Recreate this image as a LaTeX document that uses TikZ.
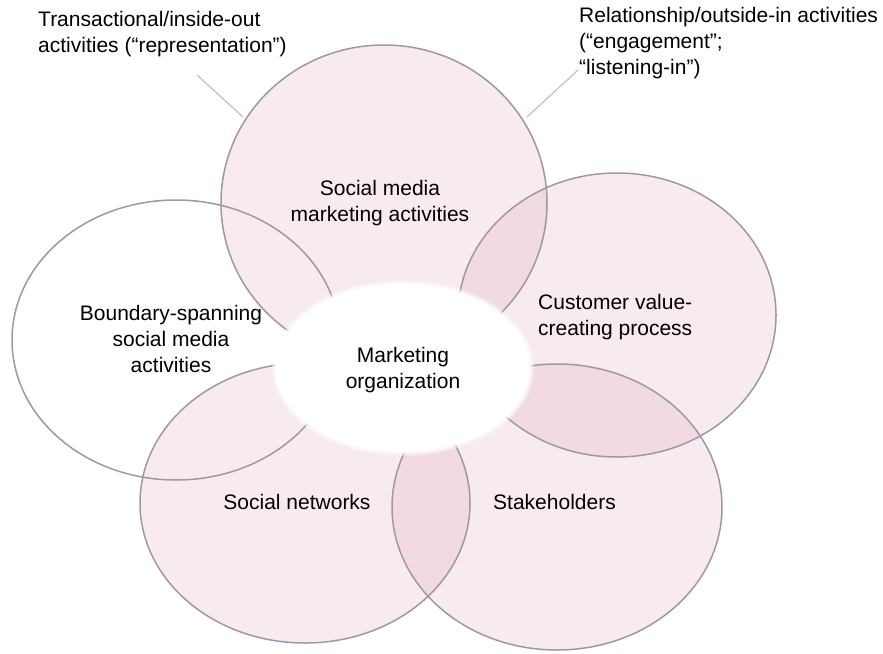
\documentclass[tikz,border=0pt]{standalone}
\usepackage{fontspec}
\setmainfont{Liberation Sans}
\definecolor{petalpink}{RGB}{225,172,185}
\definecolor{rimgrey}{RGB}{160,150,170}
\definecolor{leadgrey}{RGB}{182,196,206}
\begin{document}
\begin{tikzpicture}[x=1pt,y=-1pt,
  petal/.style={fill=petalpink, fill opacity=0.24, draw=none},
  rim/.style={draw=rimgrey, line width=1.5pt},
  lbl/.style={font=\fontsize{21}{26}\selectfont, inner sep=0pt, text=black},
  leader/.style={draw=leadgrey, line width=1.2pt}]
\useasboundingbox (0,0) rectangle (883,653);
\fill[white] (0,0) rectangle (883,653);
% pink fills
\path[petal] (384,203) ellipse [x radius=163, y radius=158];
\path[petal] (617,315) ellipse [x radius=159, y radius=142];
\path[petal] (557,507) ellipse [x radius=165, y radius=143];
\path[petal] (305,503) ellipse [x radius=165, y radius=140];
% outlines
\path[rim] (176,340) ellipse [x radius=164, y radius=140];
\path[rim] (384,203) ellipse [x radius=163, y radius=158];
\path[rim] (617,315) ellipse [x radius=159, y radius=142];
\path[rim] (557,507) ellipse [x radius=165, y radius=143];
\path[rim] (305,503) ellipse [x radius=165, y radius=140];
% centre (soft edge)
\fill[white, opacity=0.35] (403,368) ellipse [x radius=131, y radius=88];
\fill[white, opacity=0.6] (403,368) ellipse [x radius=129, y radius=86];
\fill[white] (403,368) ellipse [x radius=127, y radius=84];
% labels
\node[lbl, align=center] (smm) at (380,203) {Social media\\marketing activities};
\node[lbl, align=center] (bsp) at (171,339) {Boundary-spanning\\social media\\activities};
\node[lbl, align=left, anchor=west] (cvc) at (538,317) {Customer value-\\creating process};
\node[lbl, align=center] (mko) at (403,370) {Marketing\\organization};
\node[lbl] (sn) at (297,502) {Social networks};
\node[lbl, anchor=west] (stk) at (493,502) {Stakeholders};
\node[lbl, align=left, anchor=north west] (tio) at (38,11) {Transactional/inside-out\\activities (“representation”)};
\node[lbl, align=left, anchor=north west] (roi) at (579,7) {Relationship/outside-in activities\\(“engagement”;\\“listening-in”)};
% leaders
\coordinate (tioA) at (197,75);
\coordinate (tioB) at (243,117);
\coordinate (roiA) at (578,70);
\coordinate (roiB) at (527,117);
\draw[leader] (tioA) -- (tioB);
\draw[leader] (roiA) -- (roiB);
\end{tikzpicture}
\end{document}
